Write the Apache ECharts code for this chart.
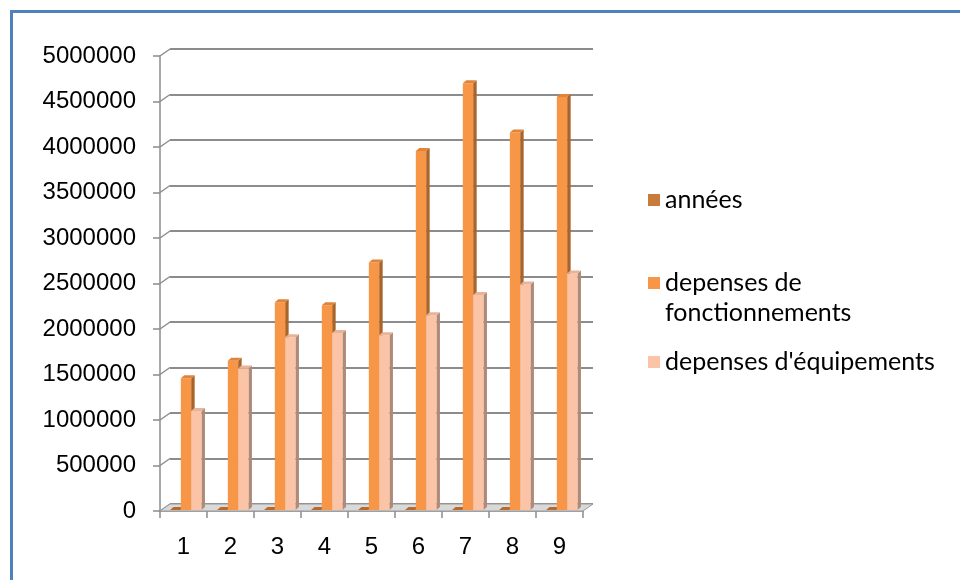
<!DOCTYPE html>
<html>
<head>
<meta charset="utf-8">
<script src="https://cdn.jsdelivr.net/npm/echarts@6/dist/echarts.min.js"></script>
<style>
  html, body { margin: 0; padding: 0; background: #ffffff; }
  #frame { position: absolute; left: 10px; top: 10px; width: 960px; height: 580px;
           border-left: 3px solid #4f81bd; border-top: 3px solid #4f81bd; box-sizing: border-box; }
  #chart { position: absolute; left: 0; top: 0; width: 960px; height: 580px; }
</style>
</head>
<body>
<div id="frame"></div>
<div id="chart"></div>
<script>
// Categories (1..9) and the three series
const categories = ['1', '2', '3', '4', '5', '6', '7', '8', '9'];
const annees = [2001, 2002, 2003, 2004, 2005, 2006, 2007, 2008, 2009];
const fonctionnement = [1460000, 1650000, 2295000, 2260000, 2730000, 3955000, 4700000, 4160000, 4550000];
const equipement = [1100000, 1565000, 1910000, 1955000, 1930000, 2150000, 2375000, 2490000, 2610000];
const yTicks = [0, 500000, 1000000, 1500000, 2000000, 2500000, 3000000, 3500000, 4000000, 4500000, 5000000];

const FONT = 'Lato';
const AXIS_FONT = '"Liberation Sans", Arial, sans-serif';
const FS_LEGEND = 25;
const FS_AXIS = 24;
const DX = 3.5, DY = 3;   // depth of each column
const WALL_DX = 10, WALL_DY = 7; // offset from front plane to back wall

// 3D-looking column: front face, right side and top face
function column3d(offsetFrac, color, sideColor, topColor) {
  return function (params, api) {
    const i = api.value(0), v = api.value(1);
    const top = api.coord([i, v]);
    const base = api.coord([i, 0]);
    const bw = api.size([1, 0])[0];
    const w = bw * 0.22;
    const x0 = base[0] - bw / 2 + offsetFrac * bw;
    const x1 = x0 + w;
    const yb = base[1] - 1;
    const yt = Math.min(top[1], yb);
    return {
      type: 'group',
      children: [
        { type: 'polygon', shape: { points: [[x1, yt], [x1 + DX, yt - DY], [x1 + DX, yb - DY], [x1, yb]] },
          style: { fill: sideColor } },
        { type: 'rect', shape: { x: x0, y: yt, width: w, height: yb - yt }, style: { fill: color } },
        { type: 'polygon', shape: { points: [[x0, yt], [x0 + DX, yt - DY], [x1 + DX, yt - DY], [x1, yt]] },
          style: { fill: topColor } }
      ]
    };
  };
}

const chart = echarts.init(document.getElementById('chart'), null, { renderer: 'canvas' });

const legendBase = {
  orient: 'vertical', left: 643, itemWidth: 12, itemHeight: 12, icon: 'rect',
  textStyle: { fontFamily: FONT, fontSize: FS_LEGEND, color: '#000', lineHeight: 30 }
};

chart.setOption({
  animation: false,
  grid: [
    { left: 160, right: 377, top: 56, bottom: 69 },   // front plane
    { left: 170, right: 367, top: 49, bottom: 76 }    // back wall
  ],
  legend: [
    Object.assign({}, legendBase, { top: 180, data: ['années'] }),
    Object.assign({}, legendBase, { top: 233, data: ['depenses de fonctionnements'],
      formatter: function () { return '\ndepenses de\nfonctionnements'; } }),
    Object.assign({}, legendBase, { top: 342, data: ["depenses d'équipements"] })
  ],
  xAxis: [
    { type: 'category', gridIndex: 0, data: categories,
      axisLine: { show: true, lineStyle: { color: '#8c8c8c', width: 1.5 } },
      axisTick: { show: true, inside: false, length: 7, lineStyle: { color: '#8c8c8c', width: 1.5 } },
      axisLabel: { fontFamily: AXIS_FONT, fontSize: FS_AXIS, color: '#000', margin: 24 } },
    { type: 'value', gridIndex: 1, min: 0, max: 1, show: false }
  ],
  yAxis: [
    { type: 'value', gridIndex: 0, min: 0, max: 5000000, interval: 500000,
      axisLine: { show: true, lineStyle: { color: '#8c8c8c', width: 1.5 } },
      axisTick: { show: true, inside: false, length: 7, lineStyle: { color: '#8c8c8c', width: 1.5 } },
      splitLine: { show: false },
      axisLabel: { fontFamily: AXIS_FONT, fontSize: FS_AXIS, color: '#000', margin: 24,
                   formatter: function (v) { return String(v); } } },
    { type: 'value', gridIndex: 1, min: 0, max: 5000000, interval: 500000,
      axisLine: { show: false }, axisTick: { show: false }, axisLabel: { show: false },
      splitLine: { show: true, lineStyle: { color: '#8c8c8c', width: 2 } } }
  ],
  series: [
    // slanted connectors from the front axis to the back-wall gridlines
    { type: 'custom', xAxisIndex: 1, yAxisIndex: 1, silent: true, z: 1,
      data: yTicks.map(function (t) { return [0, t]; }),
      renderItem: function (params, api) {
        const p = api.coord([api.value(0), api.value(1)]);
        return { type: 'line', shape: { x1: p[0], y1: p[1], x2: p[0] - WALL_DX, y2: p[1] + WALL_DY },
                 style: { stroke: '#8c8c8c', lineWidth: 1.5 } };
      } },
    // floor
    { type: 'custom', xAxisIndex: 0, yAxisIndex: 0, silent: true, z: 1,
      data: [[0, 0]],
      renderItem: function (params, api) {
        const p = api.coord([0, 0]);
        const bw = api.size([1, 0])[0];
        const L = p[0] - bw / 2, R = L + bw * categories.length, y = p[1];
        return { type: 'polygon',
                 shape: { points: [[L, y], [R, y], [R + WALL_DX, y - WALL_DY], [L + WALL_DX, y - WALL_DY]] },
                 style: { fill: '#d9d9d9', stroke: '#9a9a9a', lineWidth: 1 } };
      } },
    { name: 'années', type: 'custom', xAxisIndex: 0, yAxisIndex: 0, z: 3,
      itemStyle: { color: '#c97b3b' },
      data: annees.map(function (v, i) { return [i, v]; }),
      renderItem: column3d(0.214, '#c97b3b', '#8f5526', '#b8692c') },
    { name: 'depenses de fonctionnements', type: 'custom', xAxisIndex: 0, yAxisIndex: 0, z: 3,
      itemStyle: { color: '#f79646' },
      data: fonctionnement.map(function (v, i) { return [i, v]; }),
      renderItem: column3d(0.443, '#f79646', '#a8642a', '#e0843a') },
    { name: "depenses d'équipements", type: 'custom', xAxisIndex: 0, yAxisIndex: 0, z: 3,
      itemStyle: { color: '#fbc4a6' },
      data: equipement.map(function (v, i) { return [i, v]; }),
      renderItem: column3d(0.662, '#fbc4a6', '#b08a78', '#eab296') }
  ]
});
</script>
</body>
</html>
